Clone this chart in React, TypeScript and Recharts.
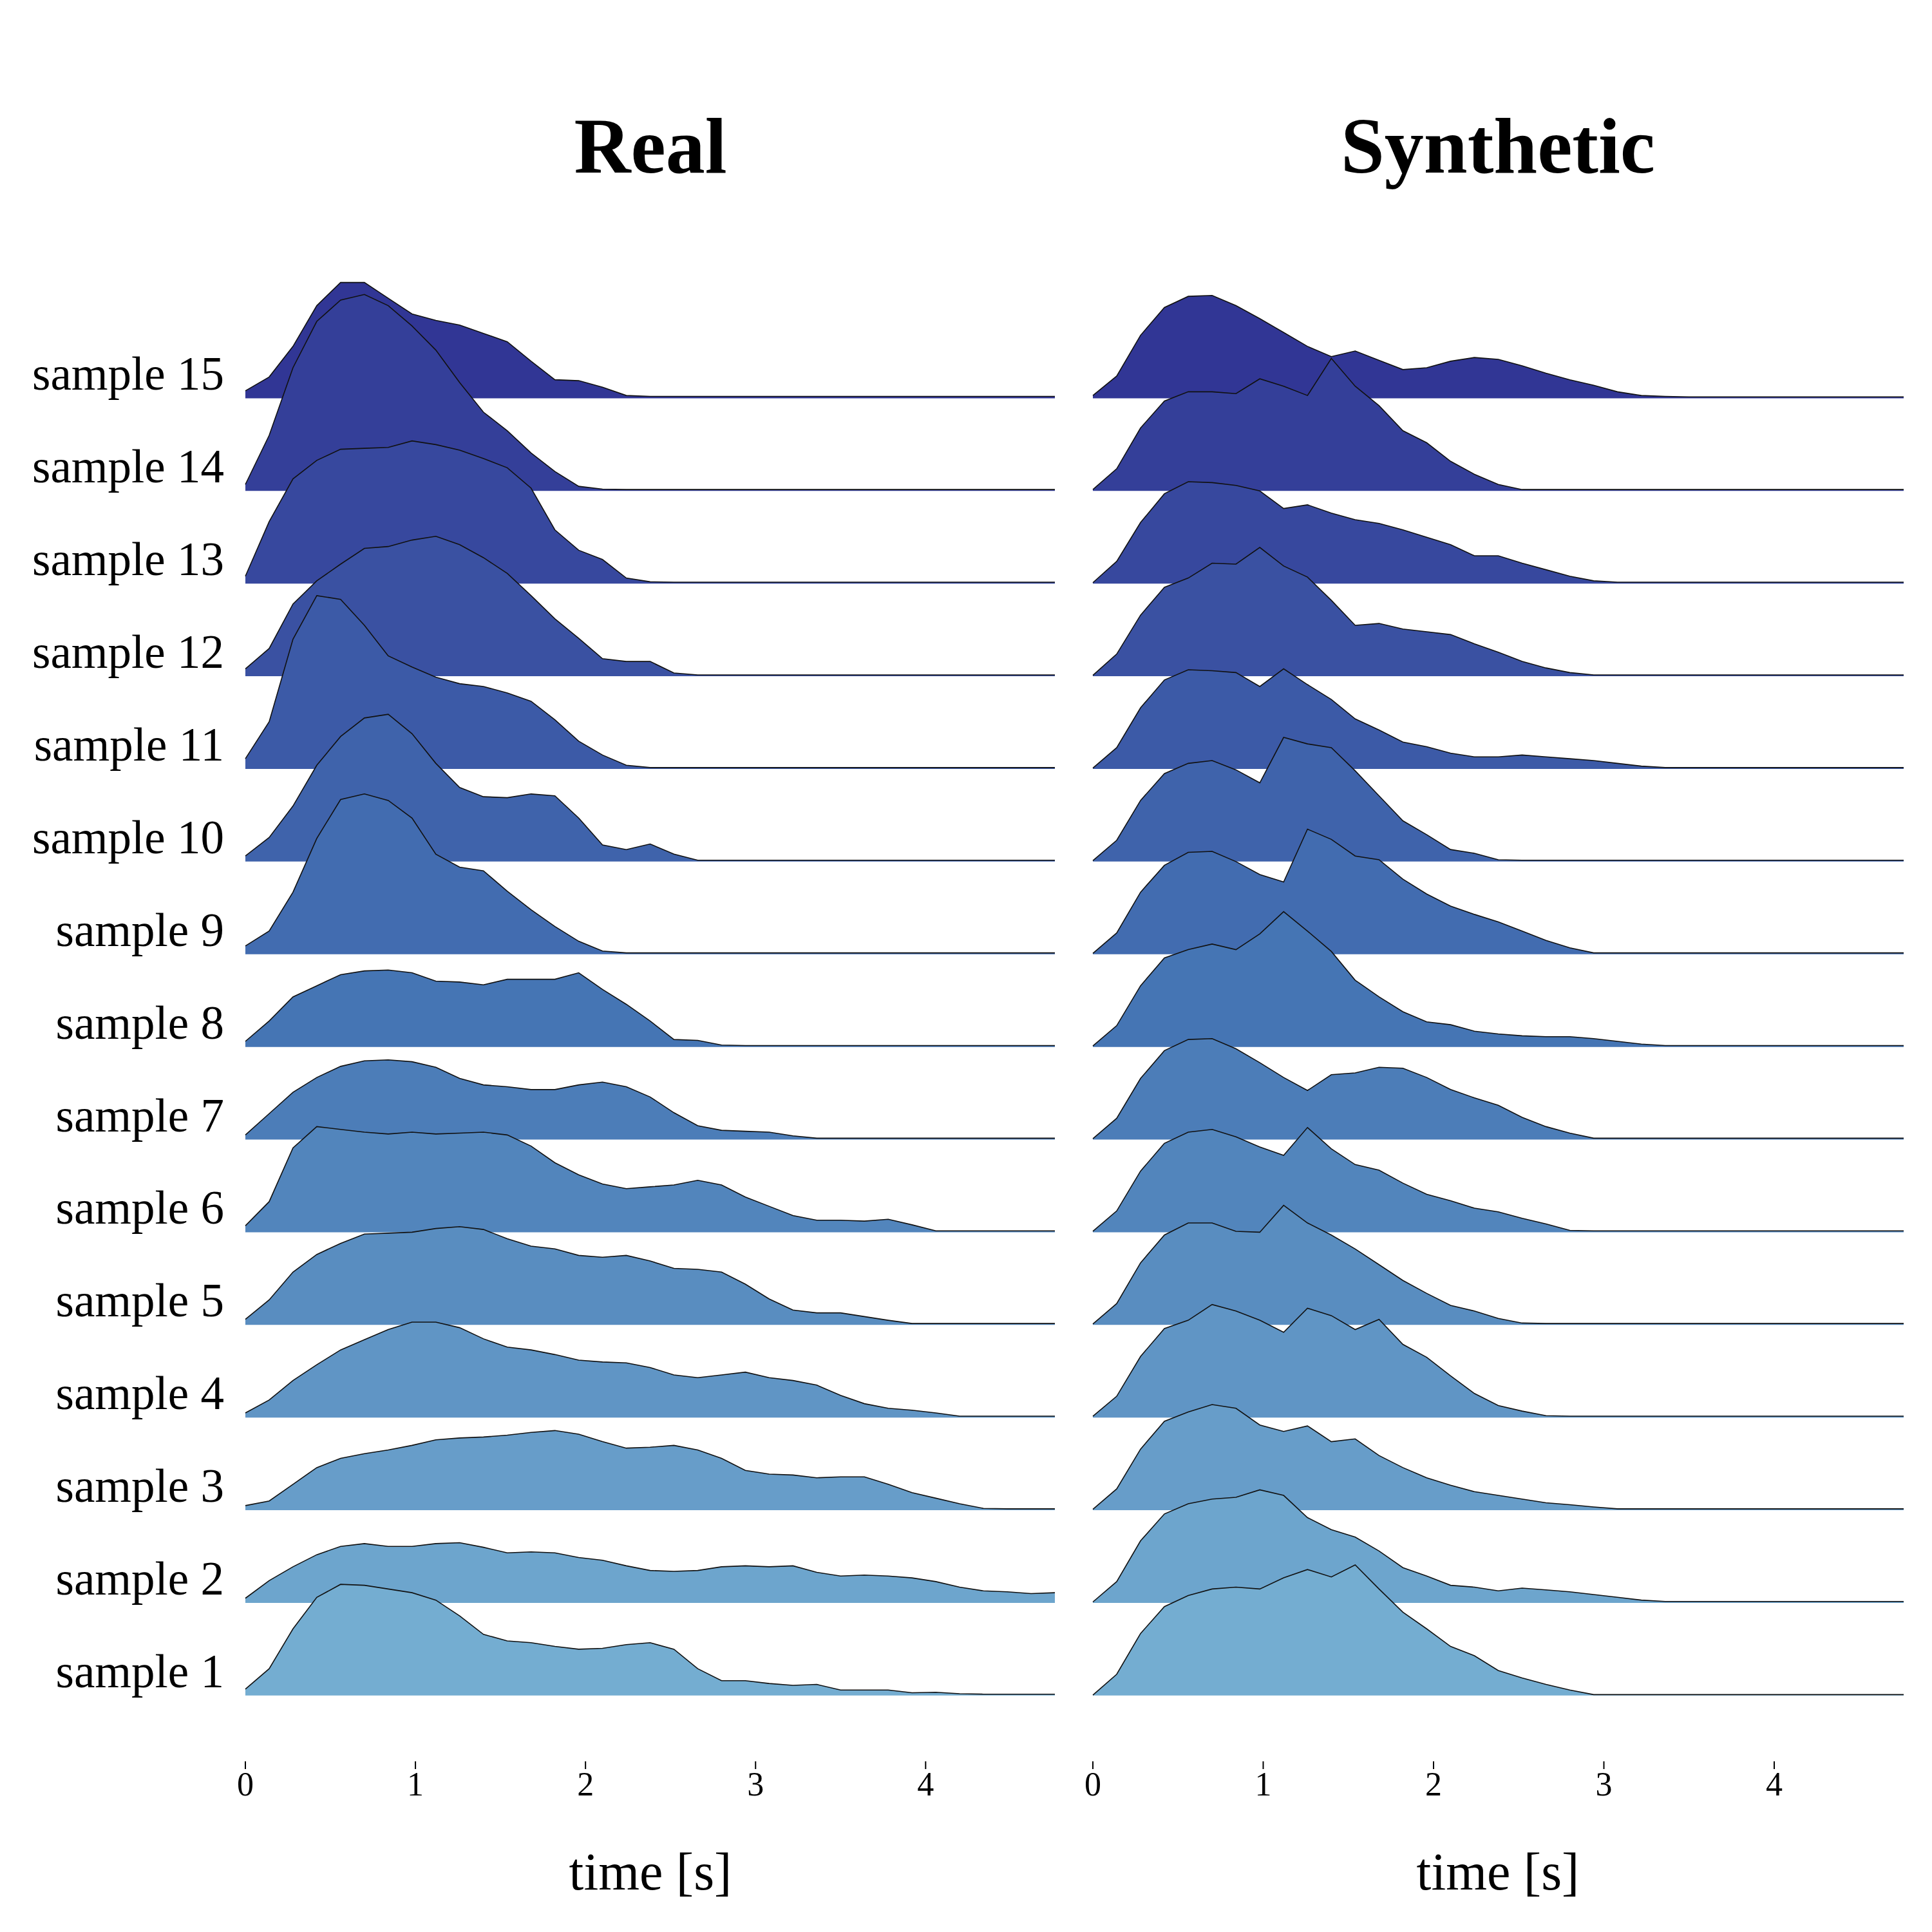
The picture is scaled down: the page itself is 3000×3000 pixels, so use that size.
import React from 'react';
import { AreaChart, Area, XAxis, YAxis } from 'recharts';

// time grid (s)
const times = [
  0, 0.14, 0.28, 0.42, 0.56, 0.7, 0.84, 0.98, 1.12, 1.26, 1.4, 1.54, 1.68, 1.82, 1.96, 2.1, 2.24, 2.38,
  2.52, 2.66, 2.8, 2.94, 3.08, 3.22, 3.36, 3.5, 3.64, 3.78, 3.92, 4.06, 4.2, 4.34, 4.48, 4.62, 4.76,
];

const xTicks = [0, 1, 2, 3, 4];

// real recordings, heights in units of the row spacing
const real1 = [0.07, 0.29, 0.72, 1.06, 1.2, 1.19, 1.15, 1.11, 1.03, 0.86, 0.66, 0.59, 0.57, 0.53, 0.5, 0.51, 0.55, 0.57, 0.5, 0.29, 0.16, 0.16, 0.13, 0.11, 0.12, 0.06, 0.06, 0.06, 0.03, 0.035, 0.02, 0.015, 0.015, 0.015, 0.015];
const real2 = [0.05, 0.24, 0.39, 0.52, 0.61, 0.64, 0.61, 0.61, 0.64, 0.65, 0.6, 0.54, 0.55, 0.54, 0.49, 0.46, 0.4, 0.35, 0.34, 0.35, 0.39, 0.4, 0.39, 0.4, 0.33, 0.29, 0.3, 0.29, 0.27, 0.23, 0.17, 0.13, 0.12, 0.1, 0.11];
const real3 = [0.05, 0.1, 0.28, 0.46, 0.56, 0.61, 0.65, 0.7, 0.76, 0.78, 0.79, 0.81, 0.84, 0.86, 0.82, 0.74, 0.67, 0.68, 0.7, 0.65, 0.56, 0.43, 0.39, 0.38, 0.35, 0.36, 0.36, 0.28, 0.19, 0.13, 0.07, 0.02, 0.015, 0.015, 0.015];
const real4 = [0.05, 0.19, 0.4, 0.57, 0.73, 0.84, 0.95, 1.03, 1.03, 0.97, 0.85, 0.76, 0.73, 0.68, 0.62, 0.6, 0.59, 0.54, 0.46, 0.43, 0.46, 0.49, 0.43, 0.4, 0.35, 0.24, 0.15, 0.1, 0.08, 0.05, 0.015, 0.015, 0.015, 0.015, 0.015];
const real5 = [0.06, 0.27, 0.57, 0.76, 0.88, 0.98, 0.99, 1.0, 1.04, 1.06, 1.03, 0.93, 0.85, 0.82, 0.75, 0.73, 0.75, 0.69, 0.61, 0.6, 0.57, 0.44, 0.28, 0.16, 0.13, 0.13, 0.09, 0.05, 0.015, 0.015, 0.015, 0.015, 0.015, 0.015, 0.015];
const real6 = [0.07, 0.33, 0.91, 1.14, 1.11, 1.08, 1.06, 1.08, 1.06, 1.07, 1.08, 1.05, 0.93, 0.75, 0.62, 0.52, 0.47, 0.49, 0.51, 0.56, 0.51, 0.38, 0.28, 0.18, 0.13, 0.13, 0.12, 0.14, 0.08, 0.015, 0.015, 0.015, 0.015, 0.015, 0.015];
const real7 = [0.05, 0.28, 0.51, 0.67, 0.79, 0.85, 0.86, 0.84, 0.78, 0.66, 0.59, 0.57, 0.54, 0.54, 0.59, 0.62, 0.57, 0.46, 0.29, 0.15, 0.1, 0.09, 0.08, 0.04, 0.015, 0.015, 0.015, 0.015, 0.015, 0.015, 0.015, 0.015, 0.015, 0.015, 0.015];
const real8 = [0.06, 0.28, 0.54, 0.66, 0.78, 0.82, 0.83, 0.8, 0.71, 0.7, 0.67, 0.73, 0.73, 0.73, 0.8, 0.62, 0.46, 0.28, 0.08, 0.07, 0.02, 0.015, 0.015, 0.015, 0.015, 0.015, 0.015, 0.015, 0.015, 0.015, 0.015, 0.015, 0.015, 0.015, 0.015];
const real9 = [0.09, 0.25, 0.67, 1.25, 1.67, 1.73, 1.66, 1.47, 1.08, 0.94, 0.9, 0.68, 0.48, 0.3, 0.14, 0.035, 0.015, 0.015, 0.015, 0.015, 0.015, 0.015, 0.015, 0.015, 0.015, 0.015, 0.015, 0.015, 0.015, 0.015, 0.015, 0.015, 0.015, 0.015, 0.015];
const real10 = [0.06, 0.26, 0.6, 1.04, 1.35, 1.55, 1.59, 1.38, 1.06, 0.8, 0.7, 0.69, 0.73, 0.71, 0.47, 0.18, 0.13, 0.19, 0.08, 0.015, 0.015, 0.015, 0.015, 0.015, 0.015, 0.015, 0.015, 0.015, 0.015, 0.015, 0.015, 0.015, 0.015, 0.015, 0.015];
const real11 = [0.11, 0.51, 1.4, 1.87, 1.83, 1.55, 1.22, 1.1, 0.99, 0.92, 0.89, 0.82, 0.73, 0.53, 0.3, 0.15, 0.04, 0.015, 0.015, 0.015, 0.015, 0.015, 0.015, 0.015, 0.015, 0.015, 0.015, 0.015, 0.015, 0.015, 0.015, 0.015, 0.015, 0.015, 0.015];
const real12 = [0.08, 0.3, 0.78, 1.03, 1.21, 1.38, 1.4, 1.47, 1.51, 1.42, 1.28, 1.11, 0.87, 0.62, 0.41, 0.19, 0.16, 0.16, 0.035, 0.015, 0.015, 0.015, 0.015, 0.015, 0.015, 0.015, 0.015, 0.015, 0.015, 0.015, 0.015, 0.015, 0.015, 0.015, 0.015];
const real13 = [0.08, 0.67, 1.13, 1.33, 1.45, 1.46, 1.47, 1.54, 1.5, 1.44, 1.35, 1.25, 1.03, 0.58, 0.36, 0.26, 0.06, 0.02, 0.015, 0.015, 0.015, 0.015, 0.015, 0.015, 0.015, 0.015, 0.015, 0.015, 0.015, 0.015, 0.015, 0.015, 0.015, 0.015, 0.015];
const real14 = [0.07, 0.6, 1.33, 1.83, 2.06, 2.12, 2.0, 1.78, 1.52, 1.17, 0.85, 0.65, 0.41, 0.21, 0.05, 0.02, 0.015, 0.015, 0.015, 0.015, 0.015, 0.015, 0.015, 0.015, 0.015, 0.015, 0.015, 0.015, 0.015, 0.015, 0.015, 0.015, 0.015, 0.015, 0.015];
const real15 = [0.08, 0.23, 0.56, 1.0, 1.25, 1.25, 1.08, 0.91, 0.84, 0.79, 0.7, 0.61, 0.4, 0.2, 0.19, 0.12, 0.03, 0.02, 0.02, 0.02, 0.02, 0.02, 0.02, 0.02, 0.02, 0.02, 0.02, 0.02, 0.02, 0.02, 0.02, 0.02, 0.02, 0.02, 0.02];

// generated samples
const synth1 = [0.005, 0.23, 0.67, 0.96, 1.08, 1.15, 1.17, 1.15, 1.27, 1.36, 1.28, 1.41, 1.15, 0.9, 0.72, 0.53, 0.43, 0.27, 0.19, 0.12, 0.06, 0.01, 0.01, 0.01, 0.01, 0.01, 0.01, 0.01, 0.01, 0.01, 0.01, 0.01, 0.01, 0.01, 0.01];
const synth2 = [0.01, 0.23, 0.67, 0.96, 1.07, 1.12, 1.14, 1.22, 1.16, 0.92, 0.79, 0.71, 0.56, 0.38, 0.29, 0.19, 0.17, 0.13, 0.16, 0.14, 0.12, 0.09, 0.06, 0.03, 0.015, 0.015, 0.015, 0.015, 0.015, 0.015, 0.015, 0.015, 0.015, 0.015, 0.015];
const synth3 = [0.01, 0.23, 0.66, 0.96, 1.06, 1.14, 1.1, 0.92, 0.85, 0.91, 0.74, 0.77, 0.59, 0.46, 0.35, 0.27, 0.2, 0.16, 0.12, 0.08, 0.06, 0.035, 0.015, 0.015, 0.015, 0.015, 0.015, 0.015, 0.015, 0.015, 0.015, 0.015, 0.015, 0.015, 0.015];
const synth4 = [0.015, 0.23, 0.66, 0.96, 1.05, 1.22, 1.15, 1.05, 0.92, 1.18, 1.1, 0.95, 1.06, 0.79, 0.65, 0.45, 0.26, 0.13, 0.07, 0.02, 0.015, 0.015, 0.015, 0.015, 0.015, 0.015, 0.015, 0.015, 0.015, 0.015, 0.015, 0.015, 0.015, 0.015, 0.015];
const synth5 = [0.01, 0.23, 0.67, 0.97, 1.1, 1.1, 1.01, 1.0, 1.29, 1.1, 0.97, 0.82, 0.65, 0.48, 0.34, 0.21, 0.15, 0.07, 0.02, 0.015, 0.015, 0.015, 0.015, 0.015, 0.015, 0.015, 0.015, 0.015, 0.015, 0.015, 0.015, 0.015, 0.015, 0.015, 0.015];
const synth6 = [0.01, 0.23, 0.66, 0.96, 1.08, 1.11, 1.03, 0.92, 0.83, 1.13, 0.9, 0.73, 0.67, 0.53, 0.41, 0.34, 0.26, 0.22, 0.15, 0.09, 0.02, 0.015, 0.015, 0.015, 0.015, 0.015, 0.015, 0.015, 0.015, 0.015, 0.015, 0.015, 0.015, 0.015, 0.015];
const synth7 = [0.01, 0.23, 0.66, 0.96, 1.08, 1.09, 0.98, 0.83, 0.67, 0.53, 0.7, 0.72, 0.78, 0.77, 0.67, 0.54, 0.45, 0.37, 0.24, 0.14, 0.07, 0.015, 0.015, 0.015, 0.015, 0.015, 0.015, 0.015, 0.015, 0.015, 0.015, 0.015, 0.015, 0.015, 0.015];
const synth8 = [0.01, 0.23, 0.66, 0.96, 1.05, 1.11, 1.05, 1.22, 1.46, 1.25, 1.03, 0.72, 0.54, 0.38, 0.27, 0.24, 0.17, 0.14, 0.12, 0.11, 0.11, 0.09, 0.06, 0.03, 0.015, 0.015, 0.015, 0.015, 0.015, 0.015, 0.015, 0.015, 0.015, 0.015, 0.015];
const synth9 = [0.01, 0.23, 0.67, 0.96, 1.1, 1.11, 1.0, 0.86, 0.78, 1.35, 1.24, 1.06, 1.02, 0.81, 0.65, 0.52, 0.43, 0.35, 0.25, 0.15, 0.07, 0.015, 0.015, 0.015, 0.015, 0.015, 0.015, 0.015, 0.015, 0.015, 0.015, 0.015, 0.015, 0.015, 0.015];
const synth10 = [0.01, 0.23, 0.66, 0.95, 1.06, 1.09, 0.99, 0.85, 1.34, 1.27, 1.23, 0.98, 0.71, 0.44, 0.29, 0.13, 0.09, 0.02, 0.015, 0.015, 0.015, 0.015, 0.015, 0.015, 0.015, 0.015, 0.015, 0.015, 0.015, 0.015, 0.015, 0.015, 0.015, 0.015, 0.015];
const synth11 = [0.01, 0.23, 0.66, 0.96, 1.07, 1.06, 1.04, 0.89, 1.08, 0.91, 0.75, 0.54, 0.42, 0.29, 0.24, 0.17, 0.13, 0.13, 0.15, 0.13, 0.11, 0.09, 0.06, 0.03, 0.015, 0.015, 0.015, 0.015, 0.015, 0.015, 0.015, 0.015, 0.015, 0.015, 0.015];
const synth12 = [0.01, 0.24, 0.66, 0.96, 1.06, 1.22, 1.21, 1.39, 1.19, 1.07, 0.82, 0.55, 0.57, 0.51, 0.48, 0.45, 0.35, 0.26, 0.16, 0.09, 0.04, 0.015, 0.015, 0.015, 0.015, 0.015, 0.015, 0.015, 0.015, 0.015, 0.015, 0.015, 0.015, 0.015, 0.015];
const synth13 = [0.01, 0.24, 0.66, 0.97, 1.1, 1.09, 1.06, 1.0, 0.81, 0.85, 0.76, 0.69, 0.65, 0.58, 0.5, 0.42, 0.3, 0.3, 0.22, 0.15, 0.08, 0.03, 0.015, 0.015, 0.015, 0.015, 0.015, 0.015, 0.015, 0.015, 0.015, 0.015, 0.015, 0.015, 0.015];
const synth14 = [0.015, 0.24, 0.68, 0.97, 1.07, 1.07, 1.05, 1.21, 1.13, 1.03, 1.43, 1.13, 0.92, 0.65, 0.52, 0.32, 0.18, 0.07, 0.015, 0.015, 0.015, 0.015, 0.015, 0.015, 0.015, 0.015, 0.015, 0.015, 0.015, 0.015, 0.015, 0.015, 0.015, 0.015, 0.015];
const synth15 = [0.03, 0.24, 0.68, 0.98, 1.1, 1.11, 1.0, 0.86, 0.71, 0.56, 0.45, 0.51, 0.41, 0.31, 0.33, 0.4, 0.44, 0.42, 0.35, 0.27, 0.2, 0.14, 0.07, 0.03, 0.02, 0.015, 0.015, 0.015, 0.015, 0.015, 0.015, 0.015, 0.015, 0.015, 0.015];

const realSeries = [real1, real2, real3, real4, real5, real6, real7, real8, real9, real10, real11, real12, real13, real14, real15];
const synthSeries = [synth1, synth2, synth3, synth4, synth5, synth6, synth7, synth8, synth9, synth10, synth11, synth12, synth13, synth14, synth15];

const sampleLabels = realSeries.map((_, k) => `sample ${k + 1}`);

// RdYlBu tail, sample 1 -> sample 15
const colors = [
  '#74add1', '#6da5cd', '#679dc9', '#6095c5', '#598dc0', '#5285bc', '#4c7db8', '#4575b4',
  '#426cb0', '#3f63ab', '#3c5aa7', '#3a51a2', '#37489e', '#343f99', '#313695',
];

const FONT = '"Liberation Serif", "Times New Roman", serif';
const offsets = sampleLabels.map((_, k) => k);

const buildRows = (series: number[][]) =>
  times.map((t, i) => {
    const row: Record<string, number> = { t };
    series.forEach((s, k) => {
      row[`s${k + 1}`] = s[i];
    });
    return row;
  });

const realRows = buildRows(realSeries);
const synthRows = buildRows(synthSeries);

const SampleTick = (props: any) => {
  const { x, y, payload } = props;
  return (
    <text x={x} y={y - 13} textAnchor="end" fontSize={73} fontFamily={FONT} fill="#000">
      {sampleLabels[Math.round(payload.value)]}
    </text>
  );
};

const Ridges = ({ rows, withLabels, width, margin }: any) => {
  const order = [...offsets].reverse();
  return (
    <AreaChart width={width} height={3000} data={rows} margin={margin}>
      <XAxis
        dataKey="t"
        type="number"
        domain={[0, 4.76]}
        ticks={xTicks}
        axisLine={false}
        tickSize={12}
        tickMargin={4}
        tickLine={{ stroke: '#000', strokeWidth: 2 }}
        tick={{ fontSize: 52, fill: '#000', fontFamily: FONT }}
        height={265}
      />
      <YAxis
        type="number"
        domain={[-0.71, 15.4]}
        ticks={offsets}
        interval={0}
        hide={!withLabels}
        width={withLabels ? 381 : 0}
        axisLine={false}
        tickLine={false}
        tickSize={0}
        tickMargin={33}
        tick={<SampleTick />}
      />
      {order.map((k) => (
        <Area
          key={k}
          type="linear"
          dataKey={(r: any) => k + r[`s${k + 1}`]}
          baseValue={k}
          fill={colors[k]}
          fillOpacity={1}
          stroke="#111"
          strokeWidth={1.6}
          dot={false}
          activeDot={false}
          isAnimationActive={false}
        />
      ))}
    </AreaChart>
  );
};

export default function App() {
  return (
    <div style={{ position: 'absolute', left: 0, top: 0, width: 3000, height: 3000, background: '#fff' }}>
      <div style={{ position: 'absolute', left: 0, top: 0 }}>
        <Ridges rows={realRows} withLabels width={1700} margin={{ top: 417, right: 62, bottom: 0, left: 0 }} />
      </div>
      <div style={{ position: 'absolute', left: 1650, top: 0 }}>
        <Ridges rows={synthRows} withLabels={false} width={1350} margin={{ top: 417, right: 44, bottom: 0, left: 47 }} />
      </div>
      <svg width={3000} height={3000} style={{ position: 'absolute', left: 0, top: 0, pointerEvents: 'none' }}>
        <text x={1010} y={268} textAnchor="middle" fontSize={122} fontWeight="bold" fontFamily={FONT} fill="#000">
          Real
        </text>
        <text x={2326} y={268} textAnchor="middle" fontSize={122} fontWeight="bold" fontFamily={FONT} fill="#000">
          Synthetic
        </text>
        <text x={1010} y={2934} textAnchor="middle" fontSize={82} fontFamily={FONT} fill="#000">
          time [s]
        </text>
        <text x={2326} y={2934} textAnchor="middle" fontSize={82} fontFamily={FONT} fill="#000">
          time [s]
        </text>
      </svg>
    </div>
  );
}
